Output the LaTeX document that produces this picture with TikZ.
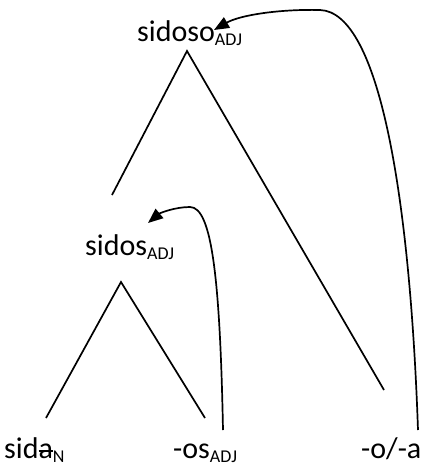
\documentclass[tikz,border=0pt]{standalone}
\usepackage{fontspec}
\setmainfont{Carlito}
\usetikzlibrary{arrows.meta}

\newcommand{\catsub}[1]{\raisebox{-4pt}{\fontsize{18}{18}\selectfont #1}}
\newsavebox{\strikebox}
\newcommand{\struck}[1]{\sbox{\strikebox}{#1}\rlap{\usebox{\strikebox}}\rule[0.45ex]{\wd\strikebox}{1.6pt}}

\begin{document}
\begin{tikzpicture}[
		x=1pt,y=-1pt,
		every node/.style={
			inner sep=0pt,
			anchor=base west,
			font=\fontsize{30}{34}\selectfont
		},
		branch/.style={line width=1.7pt},
		move/.style={line width=1.7pt,-{Triangle[length=15pt,width=12pt]}}
		]
		\useasboundingbox (0,0) rectangle (435,467);
		
		%--------------------------------------------------
		% Nodes
		%--------------------------------------------------
		
		\node (sidoso) at (137,41) {sidoso\catsub{ADJ}};
		\node (sidos) at (85,255) {sidos\catsub{ADJ}};
		\node (sida) at (4,458) {sid\struck{a}\catsub{N}};
		\node (os) at (173,458) {-os\catsub{ADJ}};
		\node (oa) at (361,458) {-o/-a};
		
		%--------------------------------------------------
		% Branch ends
		%--------------------------------------------------
		
		\coordinate (top-apex) at (187,51);
		\coordinate (top-left) at (112,195);
		\coordinate (top-right) at (384,390);
		\coordinate (mid-apex) at (121,282);
		\coordinate (mid-left) at (46,418);
		\coordinate (mid-right) at (205,418);
		\coordinate (oa-foot) at (418,430);
		\coordinate (os-foot) at (223,430);
		\coordinate (sidoso-tip) at (214,30);
		\coordinate (sidos-tip) at (148,223);
		
		%--------------------------------------------------
		% Tree
		%--------------------------------------------------
		
		\draw[branch] (top-left) -- (top-apex) -- (top-right);
		\draw[branch] (mid-left) -- (mid-apex) -- (mid-right);
		
		%--------------------------------------------------
		% Movement
		%--------------------------------------------------
		
		\draw[move]
		(oa-foot) .. controls (410,200) and (380,12) .. (320,10)
		.. controls (280,9) and (240,15) .. (sidoso-tip);
		
		\draw[move]
		(os-foot) .. controls (220,280) and (212,207) .. (190,207)
		.. controls (175,207) and (160,213) .. (sidos-tip);
		
	\end{tikzpicture}
\end{document}
